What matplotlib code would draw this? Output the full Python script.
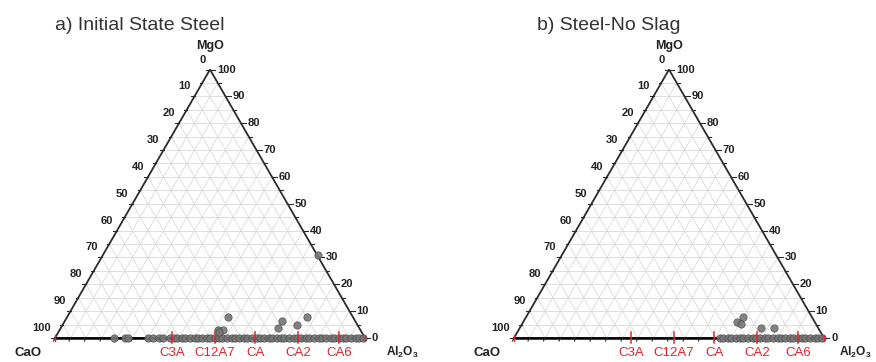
import numpy as np
import matplotlib
matplotlib.use("Agg")
import matplotlib.pyplot as plt

plt.rcParams['font.family'] = ['Liberation Sans', 'DejaVu Sans']
plt.rcParams['mathtext.fontset'] = 'custom'
plt.rcParams['mathtext.rm'] = 'Liberation Sans'
plt.rcParams['mathtext.bf'] = 'Liberation Sans:bold'

# inclusion compositions in wt% (Al2O3, MgO); CaO is the balance
a_al2o3 = [19, 22.6, 23.4, 30, 31.5, 33.6, 34.9,
           37, 38.5, 39.5, 41, 42, 43.5, 45, 46, 47.5, 49, 50, 51.5, 53, 54,
           55.5, 57, 58, 59.5, 61, 62, 63.5, 65, 66, 67.5, 69, 70, 71.5, 73,
           74, 75.5, 77, 78, 79.5, 81, 82, 83.5, 85, 86, 87.5, 89, 90, 91.5,
           93, 94, 95.5, 97, 98, 99.5,
           51.2, 52.6, 51.8, 51.8, 69.9, 69.9, 75.8, 77.3, 69.5]
a_mgo = [0, 0, 0, 0, 0, 0, 0,
         0, 0, 0, 0, 0, 0, 0, 0, 0, 0, 0, 0, 0, 0,
         0, 0, 0, 0, 0, 0, 0, 0, 0, 0, 0, 0, 0, 0,
         0, 0, 0, 0, 0, 0, 0, 0, 0, 0, 0, 0, 0, 0,
         0, 0, 0, 0, 0, 0,
         3.0, 3.0, 2.2, 7.9, 3.8, 6.4, 4.8, 7.7, 30.9]

b_al2o3 = [66.5, 67.5, 69, 70, 71.5, 73, 74, 75.5, 77, 78, 79.5, 81, 82,
           83.5, 85, 86, 87.5, 89, 90, 91.5, 93, 94, 95.5, 97, 98, 99.5,
           69.0, 70.6, 69.8, 77.9, 82.2]
b_mgo = [0, 0, 0, 0, 0, 0, 0, 0, 0, 0, 0, 0, 0,
         0, 0, 0, 0, 0, 0, 0, 0, 0, 0, 0, 0, 0,
         5.8, 5.2, 7.9, 3.6, 3.6]

# calcium aluminate phases on the CaO-Al2O3 join (wt% Al2O3)
phase_names = ['C3A', 'C12A7', 'CA', 'CA2', 'CA6']
phase_al2o3 = [37.8, 51.5, 64.6, 78.5, 91.6]

titles = ['a) Initial State Steel', 'b) Steel-No Slag']

W, H = 876, 362
S = 310.0          # pixels per unit side
H3 = np.sqrt(3) / 2
RED = '#e5232b'
EDGE = '#2b2b2b'


def tern(al, mg):
    al = np.asarray(al, float) / 100
    mg = np.asarray(mg, float) / 100
    return al + mg / 2, mg * H3


def px(n):
    # n pixels expressed in data units
    return n / S


def draw_panel(vx, vy, title, title_x, al, mg, al_off=21):
    x0, x1, y0, y1 = -0.17, 1.2, -0.075, 1.0
    ax = fig.add_axes([(vx + x0 * S) / W, (H - vy + y0 * S) / H,
                       (x1 - x0) * S / W, (y1 - y0) * S / H])
    ax.set_xlim(x0, x1)
    ax.set_ylim(y0, y1)
    ax.axis('off')

    # grid every 5 %
    for k in range(5, 100, 5):
        f = k / 100
        kw = dict(color='#dadada', lw=0.6, zorder=1)
        ax.plot([f / 2, 1 - f / 2], [f * H3, f * H3], **kw)          # MgO const
        ax.plot([f, f / 2 + 0.5], [0, (1 - f) * H3], **kw)          # Al2O3 const
        ax.plot([1 - f, (1 - f) / 2], [0, (1 - f) * H3], **kw)      # CaO const

    # triangle outline
    ax.plot([0, 1, 0.5, 0], [0, 0, H3, 0], color=EDGE, lw=1.3, zorder=3,
            solid_joinstyle='miter')
    ax.plot([0, 1], [0, 0], color='black', lw=1.8, zorder=3)

    # ticks and labels on the left (CaO) and right (MgO) edges
    for k in range(0, 101, 5):
        m = 1 - k / 100
        lx, ly = m / 2, m * H3
        rx, ry = 1 - (k / 100) / 2, (k / 100) * H3
        tl = px(4 if k % 10 == 0 else 2.5)
        ax.plot([lx - tl, lx], [ly, ly], color=EDGE, lw=0.8, zorder=3)
        ax.plot([rx, rx + px(5 if k % 10 == 0 else 3)], [ry, ry],
                color=EDGE, lw=0.8, zorder=3)
        bx = k / 100
        ax.plot([bx, bx - px(1.5)], [0, -px(3)], color=EDGE, lw=0.8,
                zorder=3)
        if k % 10 == 0:
            ax.text(lx - px(4), ly + px(10), str(k), ha='right',
                    va='center', fontsize=8, fontweight='bold', color='#222222')
            ax.text(rx + px(7), ry, str(k), ha='left', va='center',
                    fontsize=8, fontweight='bold', color='#222222')

    # phase marks on the CaO-Al2O3 join
    for name, p in zip(phase_names, phase_al2o3):
        x = p / 100
        ax.plot([x, x], [-px(5), px(6)], color=RED, lw=1.1, zorder=5)
        ax.text(x, -px(15), name, ha='center', va='center', fontsize=9.5,
                color=RED)
    for x in (0, 1):
        ax.plot([x, x], [-px(3), px(3)], color=RED, lw=1.0, zorder=5)

    # corner labels
    ax.text(0.5, H3 + px(24), 'MgO', ha='center', va='center',
            fontsize=9, fontweight='bold', color='#222222')
    ax.text(-px(27), -px(15), 'CaO', ha='center', va='center',
            fontsize=9.5, fontweight='bold', color='#222222')
    ax.text(1 + px(al_off), -px(14), r'$\mathbf{Al_2O_3}$', ha='left',
            va='center', fontsize=8.6, color='#222222')

    # inclusions
    x, y = tern(al, mg)
    ax.scatter(x, y, s=28, facecolor='#767676', edgecolor='#4a4a4a',
               linewidth=0.5, alpha=0.9, zorder=4, clip_on=False)

    fig.text(title_x / W, (H - 29.5) / H, title, ha='left', va='baseline',
             fontsize=14, color='#333333')


fig = plt.figure(figsize=(W / 100, H / 100), dpi=100)
draw_panel(55, 338, titles[0], 55, a_al2o3, a_mgo)
draw_panel(514, 338, titles[1], 537, b_al2o3, b_mgo, al_off=15)

fig.savefig('out.png', dpi=100, facecolor='white')
